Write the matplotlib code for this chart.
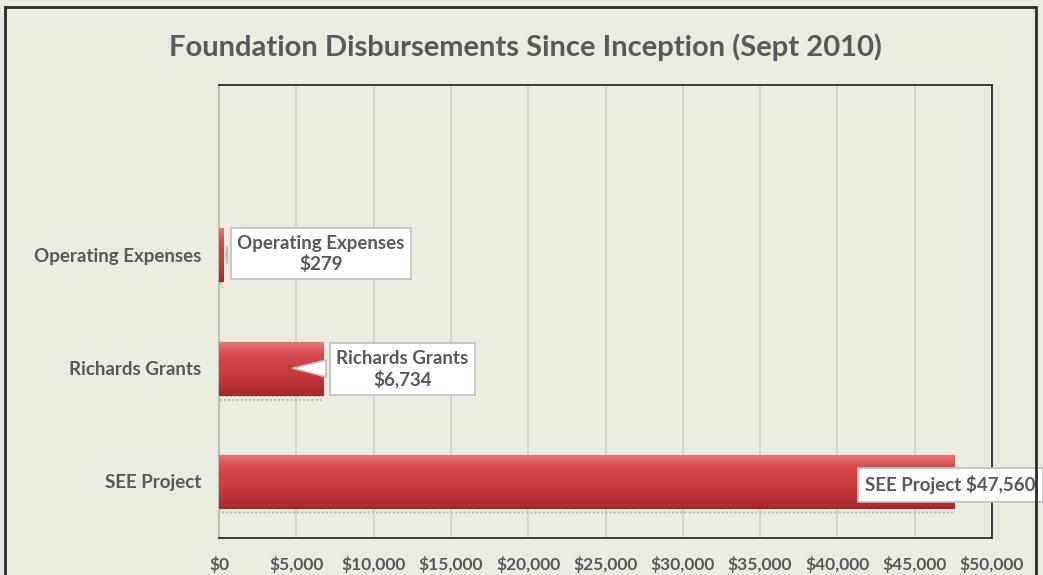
import numpy as np
import matplotlib.pyplot as plt
from matplotlib.patches import Rectangle
from matplotlib.colors import LinearSegmentedColormap

# ========= DATA =========
categories = ["SEE Project", "Richards Grants", "Operating Expenses"]
values = [47560, 6734, 279]
label_texts = ["SEE Project $47,560", "Richards Grants\n$6,734", "Operating Expenses\n$279"]
x_ticks = [0, 5000, 10000, 15000, 20000, 25000, 30000, 35000, 40000, 45000, 50000]
title = "Foundation Disbursements Since Inception (Sept 2010)"
# ========================

BG = "#EBEBE0"
GRAY = "#595959"
FONT = ["Lato", "DejaVu Sans"]

plt.rcParams["font.family"] = FONT

fig = plt.figure(figsize=(10.43, 5.75), dpi=100, facecolor=BG)
ax = fig.add_axes([219 / 1043, 1 - 538 / 575, (992 - 219) / 1043, (538 - 85) / 575])
ax.set_facecolor(BG)

# outer chart border
fig.patches.append(Rectangle((5 / 1043, -0.05), 1031 / 1043, 1.05 - 7 / 575,
                             transform=fig.transFigure, fill=False,
                             edgecolor="#2b2b2b", linewidth=2, zorder=0))

y = np.arange(len(categories))
bars = ax.barh(y, values, height=0.47, color="#C0383A", edgecolor="#9b2a2a",
               linewidth=0.8, zorder=3)

# soft dotted shadow under each bar
for b in bars:
    ax.add_patch(Rectangle((b.get_x(), b.get_y() - 0.06), b.get_width(), 0.06,
                           facecolor="none", edgecolor="#B8B8B0", hatch="....",
                           linewidth=0, zorder=2))

# vertical gradient on each bar (bevel look)
cmap = LinearSegmentedColormap.from_list(
    "bar", ["#A3292B", "#BE3436", "#CC3E40", "#D54A4B", "#E77A79"])
grad = np.linspace(0, 1, 256).reshape(-1, 1)
for b in bars:
    im = ax.imshow(grad, cmap=cmap, aspect="auto", zorder=3.5, origin="lower",
                   extent=[b.get_x(), b.get_x() + b.get_width(),
                           b.get_y(), b.get_y() + b.get_height()])
    im.set_clip_path(b)

ax.set_xlim(0, 50000)
ax.set_ylim(-0.5, len(categories) + 0.5)
ax.set_xticks(x_ticks)
ax.set_xticklabels([f"${v:,}" for v in x_ticks])
ax.set_yticks(y)
ax.set_yticklabels(categories)
ax.tick_params(axis="x", length=0, pad=13, labelsize=12.5, labelcolor=GRAY)
ax.tick_params(axis="y", length=0, pad=13, labelsize=13.5, labelcolor=GRAY)
for lab in ax.get_xticklabels() + ax.get_yticklabels():
    lab.set_fontweight("bold")

ax.grid(axis="x", color="#D0D0C8", linewidth=1.2, zorder=0)
ax.set_axisbelow(True)
for side in ["top", "right", "bottom"]:
    ax.spines[side].set_color("#2b2b2b")
    ax.spines[side].set_linewidth(1.3)
ax.spines["left"].set_color("#BDBDB5")
ax.spines["left"].set_linewidth(1.5)

# callouts
box = dict(boxstyle="square,pad=0.35", fc="white", ec="#BFBFBF", lw=1.2)
wedge = dict(arrowstyle="wedge,tail_width=0.9,shrink_factor=0.5",
             fc="white", ec="#BFBFBF", lw=1.2)

ax.annotate(label_texts[2], xy=(values[2] + 150, y[2]), xytext=(6600, y[2] + 0.01),
            ha="center", va="center", fontsize=13.5, fontweight="bold",
            color=GRAY, bbox=box, arrowprops=wedge, zorder=6)
ax.annotate(label_texts[1], xy=(4600, y[1]), xytext=(11850, y[1] - 0.01),
            ha="center", va="center", fontsize=13.5, fontweight="bold",
            color=GRAY, bbox=box, arrowprops=wedge, zorder=6)
ax.annotate(label_texts[0], xy=(values[0], y[0]), xytext=(47300, y[0] - 0.03),
            ha="center", va="center", fontsize=13.5, fontweight="bold",
            color=GRAY, bbox=dict(boxstyle="square,pad=0.4", fc="white",
                                  ec="#BFBFBF", lw=1.2),
            zorder=6, annotation_clip=False)

fig.text(0.504, 0.918, title, ha="center", va="center", fontsize=21,
         fontweight="bold", color=GRAY)

fig.savefig("out.png", dpi=100, facecolor=BG)
